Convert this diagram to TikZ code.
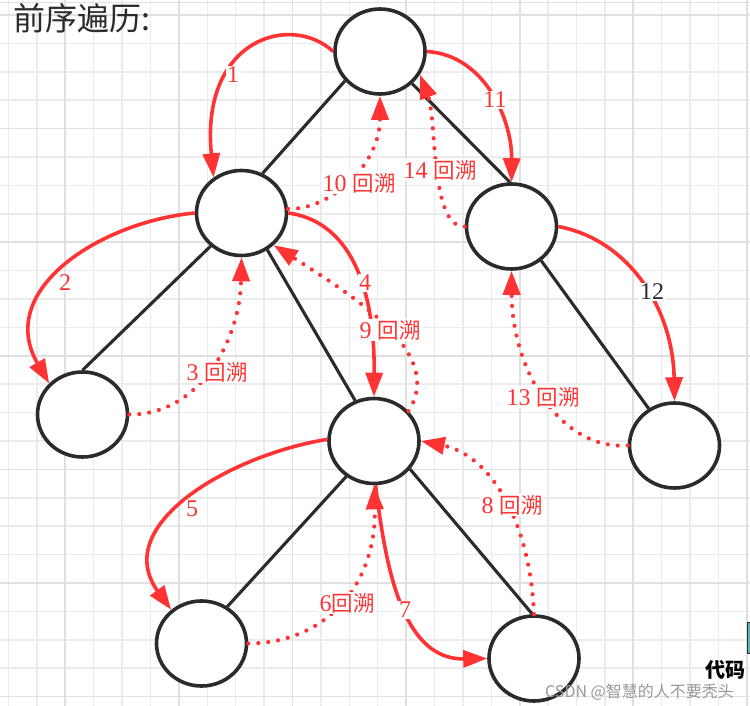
\documentclass[tikz,border=0pt]{standalone}
\usepackage{fontspec}
\setmainfont{Liberation Serif}
\newfontfamily\cjk{Noto Sans CJK SC}
\usetikzlibrary{arrows.meta,shapes.geometric}
\definecolor{rd}{HTML}{FF3333}
\definecolor{ln}{HTML}{2B2B2B}
\definecolor{gmin}{HTML}{EBEBEB}
\definecolor{gmaj}{HTML}{E0E0E0}
\newcommand{\huisu}{{\cjk\fontsize{21.5}{21.5}\selectfont 回溯}}
\tikzset{
 tnode/.style={ellipse, draw=ln, line width=3.6pt, fill=white, minimum width=90pt, minimum height=85pt, inner sep=0pt},
 tedge/.style={draw=ln, line width=3.1pt},
 walk/.style={draw=rd, line width=3.6pt, -{Triangle[length=24pt,width=17pt]}},
 back/.style={draw=rd, line width=4.2pt, dash pattern=on 0pt off 10pt, line cap=round, -{Triangle[length=24pt,width=17pt]}},
 lbl/.style={text=rd, fill=white, inner sep=1.5pt, font=\fontsize{24}{24}\selectfont},
 gridmin/.style={draw=gmin, line width=1.5pt},
 gridmaj/.style={draw=gmaj, line width=1.7pt},
}
\begin{document}
\begin{tikzpicture}[x=1pt,y=-1pt]
\useasboundingbox (0,0) rectangle (750,706);
\fill[white] (0,0) rectangle (750,706);
% grid
\foreach \k [evaluate=\k as \xx using 8.5+28.4*\k] in {0,...,26} {\draw[gridmin] (\xx,0) -- (\xx,706);}
\foreach \k [evaluate=\k as \yy using 15+28.4*\k] in {0,...,24} {\draw[gridmin] (0,\yy) -- (750,\yy);}
\foreach \k [evaluate=\k as \xx using 8.5+28.4*\k] in {2,6,...,26} {\draw[gridmaj] (\xx,0) -- (\xx,706);}
\foreach \k [evaluate=\k as \yy using 15+28.4*\k] in {0,4,...,24} {\draw[gridmaj] (0,\yy) -- (750,\yy);}
\draw[gridmaj] (0,2.5) -- (750,2.5);
% title
\node[anchor=base west, text=ln, inner sep=0pt] (title) at (13,31) {\cjk\fontsize{32}{32}\selectfont 前序遍历:};
% nodes
\node[tnode] (A) at (380,51.5) {};
\node[tnode] (B) at (241.5,213) {};
\node[tnode] (C) at (511.5,226.5) {};
\node[tnode] (D) at (82.5,414.5) {};
\node[tnode] (E) at (374,441) {};
\node[tnode] (F) at (674.5,445.5) {};
\node[tnode] (G) at (201.5,643.5) {};
\node[tnode] (H) at (534,658.5) {};
% tree edges
\draw[tedge] (A.-140) -- (B.62);
\draw[tedge] (A.-45) -- (C.92);
\draw[tedge] (B.-133) -- (D.90);
\draw[tedge] (B.-55) -- (E.115);
\draw[tedge] (C.-49) -- (F.125);
\draw[tedge] (E.-128) -- (G.55);
\draw[tedge] (E.-38) -- (H.92);
% traversal
\draw[walk] (A.180) .. controls (290,12) and (200,40) .. (B.128);
\draw[walk] (B.180) .. controls (100,222) and (-5,290) .. (D.137);
\draw[back] (D.0) .. controls (200,415) and (240,340) .. (B.-90);
\draw[walk] (B.0) .. controls (340,220) and (375,270) .. (E.90);
\draw[back] (E.41) .. controls (445,355) and (360,300) .. (B.-45);
\draw[back] (B.5) .. controls (330,210) and (380,165) .. (A.-90);
\draw[walk] (A.0) .. controls (485,55) and (512,120) .. (C.90);
\draw[back] (C.180) .. controls (430,228) and (437,120) .. (A.-30);
\draw[walk] (C.0) .. controls (630,240) and (673,310) .. (F.90);
\draw[back] (F.180) .. controls (560,450) and (512,370) .. (C.-90);
\draw[walk] (E.178) .. controls (230,455) and (110,525) .. (G.132);
\draw[back] (G.0) .. controls (330,643) and (377,580) .. (E.-90);
\draw[walk] (E.-88) .. controls (385,560) and (400,660) .. (H.180);
\draw[back] (H.90) .. controls (530,520) and (490,455) .. (E.0);
% labels
\node[lbl] (l1) at (233,75) {1};
\node[lbl] (l2) at (65,283) {2};
\node[lbl] (l3) at (217,372) {3 \huisu};
\node[lbl] (l4) at (365,283) {4};
\node[lbl] (l9) at (390,330) {9 \huisu};
\node[lbl] (l10) at (359,183) {10 \huisu};
\node[lbl] (l11) at (495,100) {11};
\node[lbl] (l14) at (440,170) {14 \huisu};
\node[lbl, text=ln] (l12) at (652,292) {12};
\node[lbl] (l13) at (543,397) {13 \huisu};
\node[lbl] (l5) at (192,509) {5};
\node[lbl] (l6) at (347,603) {6\huisu};
\node[lbl] (l7) at (405,610) {7};
\node[lbl] (l8) at (512,505) {8 \huisu};
% watermark
\node[anchor=base west, text=gray!80, inner sep=0pt, font=\cjk\fontsize{16}{16}\selectfont] (wm) at (545,697) {CSDN @智慧的人不要秃头};
\node[anchor=base west, text=black, inner sep=0pt, font=\cjk\bfseries\fontsize{20}{20}\selectfont] (dm) at (705,677) {代码};
\draw[draw=ln, fill=teal!60, line width=0.8pt] (747.5,622) rectangle (750,653);
\end{tikzpicture}
\end{document}
